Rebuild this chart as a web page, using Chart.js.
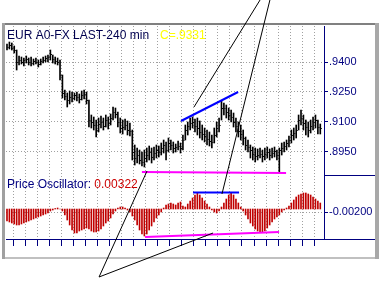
<!DOCTYPE html>
<html><head><meta charset="utf-8">
<script src="https://cdn.jsdelivr.net/npm/chart.js@4/dist/chart.umd.min.js"></script>
<style>html,body{margin:0;padding:0;background:#fff;overflow:hidden}canvas{display:block}</style>
</head><body>
<canvas id="c" width="382" height="281"></canvas>
<script>
// ---- data (EUR A0-FX, 240 min bars) ----
const high = [.9490,.9500,.9495,.9480,.9460,.9430,.9425,.9420,.9430,.9420,.9425,.9415,.9420,.9410,.9415,.9425,.9430,.9435,.9460,.9435,
.9425,.9420,.9410,.9335,.9260,.9245,.9255,.9250,.9245,.9250,.9240,.9255,.9260,.9250,.9210,.9135,.9125,.9110,.9120,.9130,
.9120,.9135,.9125,.9140,.9175,.9170,.9150,.9120,.9110,.9115,.9105,.9095,.9060,.8985,.8970,.8960,.8950,.8960,.8970,.8980,
.8970,.8975,.8985,.8980,.8995,.9010,.9000,.9020,.9010,.9000,.8990,.9005,.8995,.9035,.9085,.9100,.9120,.9125,.9115,.9120,
.9105,.9085,.9070,.9060,.9050,.9035,.9070,.9100,.9120,.9205,.9195,.9185,.9170,.9160,.9145,.9120,.9100,.9085,.9060,.9025,
.9010,.8985,.8975,.8970,.8965,.8970,.8960,.8970,.8975,.8965,.8970,.8975,.8960,.8970,.8995,.9000,.9010,.9030,.9060,.9070,
.9085,.9135,.9160,.9135,.9110,.9100,.9110,.9125,.9135,.9110,.9090];
const low = [.9460,.9465,.9460,.9445,.9360,.9385,.9390,.9380,.9395,.9385,.9380,.9385,.9390,.9375,.9385,.9395,.9400,.9400,.9410,.9395,
.9390,.9385,.9310,.9220,.9210,.9175,.9190,.9200,.9210,.9205,.9195,.9210,.9215,.9190,.9075,.9070,.9060,.9025,.9050,.9070,
.9060,.9075,.9065,.9085,.9110,.9120,.9075,.9045,.9040,.9060,.9035,.9030,.8910,.8885,.8895,.8890,.8880,.8875,.8900,.8910,
.8895,.8910,.8920,.8925,.8935,.8945,.8910,.8950,.8960,.8945,.8950,.8960,.8945,.8960,.9010,.9035,.9060,.9070,.9050,.9035,
.9020,.9010,.9000,.8985,.8980,.8970,.8995,.9025,.9050,.9110,.9135,.9120,.9110,.9100,.9075,.9050,.9025,.9010,.8985,.8960,
.8950,.8920,.8910,.8900,.8910,.8920,.8900,.8910,.8920,.8910,.8920,.8925,.8910,.8850,.8935,.8950,.8960,.8975,.8995,.9010,
.9020,.9060,.9085,.9060,.9035,.9025,.9045,.9060,.9070,.9040,.9040];
const close = [.9475,.9485,.9470,.9460,.9400,.9410,.9400,.9410,.9415,.9400,.9395,.9405,.9400,.9390,.9405,.9410,.9420,.9425,.9440,.9415,
.9405,.9400,.9335,.9245,.9230,.9210,.9225,.9220,.9235,.9225,.9215,.9235,.9240,.9210,.9110,.9100,.9085,.9060,.9090,.9100,
.9080,.9110,.9095,.9120,.9150,.9140,.9100,.9070,.9075,.9085,.9060,.9055,.8950,.8920,.8935,.8910,.8900,.8920,.8935,.8950,
.8925,.8945,.8960,.8950,.8970,.8985,.8960,.8995,.8985,.8970,.8975,.8980,.8970,.9010,.9060,.9080,.9095,.9100,.9080,.9070,
.9050,.9040,.9030,.9015,.9005,.9000,.9035,.9070,.9085,.9170,.9170,.9150,.9135,.9125,.9100,.9080,.9055,.9040,.9020,.8985,
.8975,.8960,.8940,.8930,.8935,.8940,.8930,.8940,.8950,.8935,.8945,.8955,.8935,.8960,.8970,.8980,.8995,.9010,.9035,.9045,
.9060,.9110,.9120,.9095,.9075,.9060,.9080,.9100,.9110,.9075,.9070];
const osc = [-.0072,-.0078,-.0084,-.0090,-.0096,-.0096,-.0090,-.0084,-.0078,-.0072,-.0066,-.0060,-.0054,-.0048,-.0042,-.0036,-.0030,-.0024,-.0012,-.0006,
.0003,.0006,0,-.0012,-.0036,-.0066,-.0096,-.0126,-.0144,-.0144,-.0132,-.0126,-.0120,-.0114,-.0120,-.0132,-.0138,-.0138,-.0132,-.0120,
-.0102,-.0084,-.0072,-.0054,-.0030,-.0012,.0006,.0012,.0012,.0006,-.0006,-.0018,-.0042,-.0066,-.0096,-.0126,-.0150,-.0162,-.0150,-.0126,
-.0102,-.0078,-.0054,-.0036,-.0018,.0006,.0024,.0030,.0036,.0030,.0024,.0036,.0042,.0018,.0012,.0030,.0048,.0066,.0084,.0096,
.0084,.0066,.0048,.0030,.0012,-.0006,-.0018,-.0024,-.0012,.0012,.0036,.0060,.0084,.0096,.0084,.0060,.0036,.0012,-.0012,-.0036,
-.0060,-.0084,-.0102,-.0120,-.0132,-.0138,-.0138,-.0132,-.0114,-.0096,-.0078,-.0060,-.0048,-.0036,-.0018,-.0006,.0006,.0018,.0036,.0054,
.0072,.0084,.0090,.0096,.0096,.0090,.0084,.0072,.0060,.0048,.0036];

const priceTicks = [.9550,.95125,.9475,.94375,.9400,.93625,.9325,.92875,.9250,.92125,.9175,.91375,.9100,.90625,.9025,.89875,.8950,.89125,.8875];
const priceLabels = {'0.94':'.9400','0.925':'.9250','0.91':'.9100','0.895':'.8950'};
const oscTicks = [.018,.014,.010,.006,.002,-.002,-.006,-.010,-.014];
const oscLabels = {'-0.002':'-0.00200'};
const barTicks = [0,5,10,15,20,25,30,35,40,45,50,55,60,65,70,75,80,85,90,95,100,105,110,115,120,125,130];

// annotation trend lines: [barIndex, value] endpoints
const priceHighLine = [[72.2,.9105],[95.9,.9250]];
const priceLowLine  = [[56.0,.8850],[115.8,.8845]];
const oscHighLine   = [[77.2,.0099],[96.3,.0099]];
const oscLowLine    = [[57.3,-.0168],[112.9,-.0138]];
const pointerA = [[105.0,.9710],[77.6,.9175]];
const pointerB = [[109.1,.9710],[89.2,.8740]];
const pointerC = [[38.2,.8325],[58.1,.8855]];
const pointerD = [[38.2,.8325],[85.5,.8545]];

const titleText = 'EUR A0-FX LAST-240 min';
const lastText = 'C=.9331';
const oscText = 'Price Oscillator:';
const oscValueText = '0.00322';

// ---- build ----
const idx = high.map((_, i) => i);
const seg = (pts) => pts.map(p => ({x: p[0], y: p[1]}));
const lineDs = (pts, color, width, axis) => ({type:'line', data: seg(pts), borderColor: color, borderWidth: width,
  pointRadius: 0, yAxisID: axis, clip: false, fill: false, tension: 0});

const tickImg = document.createElement('canvas'); tickImg.width = 5; tickImg.height = 1;
{ const t = tickImg.getContext('2d'); t.fillStyle = '#000'; t.fillRect(3,0,1,1); }

const NAVY = '#000080';
const decor = {
  id: 'decor',
  beforeDraw(chart) { const c = chart.ctx; c.save(); c.fillStyle = '#fff'; c.fillRect(0,0,chart.width,chart.height); c.restore(); },
  beforeDatasetsDraw(chart) {
    const c = chart.ctx; c.save();
    c.fillStyle = '#808080'; c.fillRect(2, 23, 376, 2);
    c.fillStyle = '#a0a0a0'; c.fillRect(2, 23, 3, 236);
    c.fillStyle = '#c0c0c0'; c.fillRect(5, 257, 371, 2);
    c.restore();
  },
  afterDraw(chart) {
    const c = chart.ctx, ca = chart.chartArea, ys = chart.scales.y;
    c.save();
    c.strokeStyle = NAVY; c.lineWidth = 1;
    c.beginPath(); c.moveTo(ca.right, Math.round(ys.bottom) + 0.5); c.lineTo(376, Math.round(ys.bottom) + 0.5);
    c.moveTo(ca.right, Math.round(ca.bottom) + 0.5); c.lineTo(376, Math.round(ca.bottom) + 0.5); c.stroke();
    c.fillStyle = '#a8a8a8'; c.fillRect(375, 23, 4, 236);
    c.fillStyle = '#fff'; c.fillRect(379, 0, 3, 281);
    c.font = '12px Arial'; c.textBaseline = 'alphabetic';
    c.fillStyle = '#000050'; c.fillText(titleText, 7, 39);
    c.fillStyle = '#ffff00'; c.fillText(lastText, 160, 39);
    c.fillStyle = '#000080'; c.fillText(oscText, 7, 188);
    const w = c.measureText(oscText + ' ').width;
    c.fillStyle = '#cc0000'; c.fillText(oscValueText, 7 + w, 188);
    c.restore();
  }
};

const xMin = -0.415, xMax = 131.54;
new Chart(document.getElementById('c'), {
  type: 'bar',
  data: { datasets: [
    lineDs(pointerA, '#000', 1, 'y'),
    lineDs(pointerB, '#000', 1, 'y'),
    lineDs(pointerC, '#000', 1, 'y'),
    lineDs(pointerD, '#000', 1, 'y'),
    lineDs(priceHighLine, '#0000ff', 2, 'y'),
    lineDs(priceLowLine, '#ff00ff', 2, 'y'),
    lineDs(oscHighLine, '#0000ff', 2, 'y2'),
    lineDs(oscLowLine, '#ff00ff', 2, 'y2'),
    {type:'scatter', data: idx.map(i => ({x: i, y: close[i]})), yAxisID: 'y', pointStyle: tickImg, pointRadius: 2},
    {type:'bar', data: idx.map(i => ({x: i, y: [low[i], high[i]]})), yAxisID: 'y', backgroundColor: '#000',
      barThickness: 1, grouped: false, borderWidth: 0},
    {type:'bar', data: idx.map(i => ({x: i, y: osc[i]})), yAxisID: 'y2', backgroundColor: '#c00000',
      barThickness: 1, grouped: false, borderWidth: 0},
  ]},
  options: {
    responsive: false, animation: false, devicePixelRatio: 1,
    layout: { padding: { left: 6, right: 6, top: 26, bottom: 24 } },
    plugins: { legend: { display: false }, tooltip: { enabled: false } },
    scales: {
      x: { type: 'linear', min: xMin, max: xMax, offset: false, bounds: 'data',
        afterBuildTicks: s => { s.ticks = barTicks.map(v => ({value: v})); },
        afterFit: s => { s.height = 18; s.paddingLeft = 0; s.paddingRight = 0; },
        ticks: { display: false },
        grid: { color: '#a0a0a0', tickColor: NAVY, tickLength: 7, drawTicks: true },
        border: { display: true, color: NAVY, width: 1, dash: [1, 2] } },
      y: { position: 'right', stack: 'panes', stackWeight: 149, min: .8835, max: .9580, bounds: 'data',
        afterBuildTicks: s => { s.ticks = priceTicks.map(v => ({value: v})); },
        afterFit: s => { s.width = 52; s.paddingTop = 0; s.paddingBottom = 0; },
        ticks: { color: NAVY, padding: 1, font: { family: 'Arial', size: 11 },
          callback: v => priceLabels[String(+v.toFixed(5))] },
        grid: { color: c => (c.tick && priceLabels[String(+c.tick.value.toFixed(5))]) ? '#a0a0a0' : 'rgba(0,0,0,0)',
          tickColor: NAVY, tickLength: 4 },
        border: { display: true, color: NAVY, width: 1, dash: [1, 2] } },
      y2: { position: 'right', stack: 'panes', stackWeight: 64, min: -.018, max: .0204, bounds: 'data',
        afterBuildTicks: s => { s.ticks = oscTicks.map(v => ({value: v})); },
        afterFit: s => { s.width = 52; s.paddingTop = 0; s.paddingBottom = 0; },
        ticks: { color: NAVY, padding: 1, font: { family: 'Arial', size: 11 },
          callback: v => oscLabels[String(+v.toFixed(5))] },
        grid: { color: c => (c.tick && oscLabels[String(+c.tick.value.toFixed(5))]) ? '#a0a0a0' : 'rgba(0,0,0,0)',
          tickColor: NAVY, tickLength: 4 },
        border: { display: true, color: NAVY, width: 1, dash: [1, 2] } }
    }
  },
  plugins: [decor]
});
</script>
</body></html>
